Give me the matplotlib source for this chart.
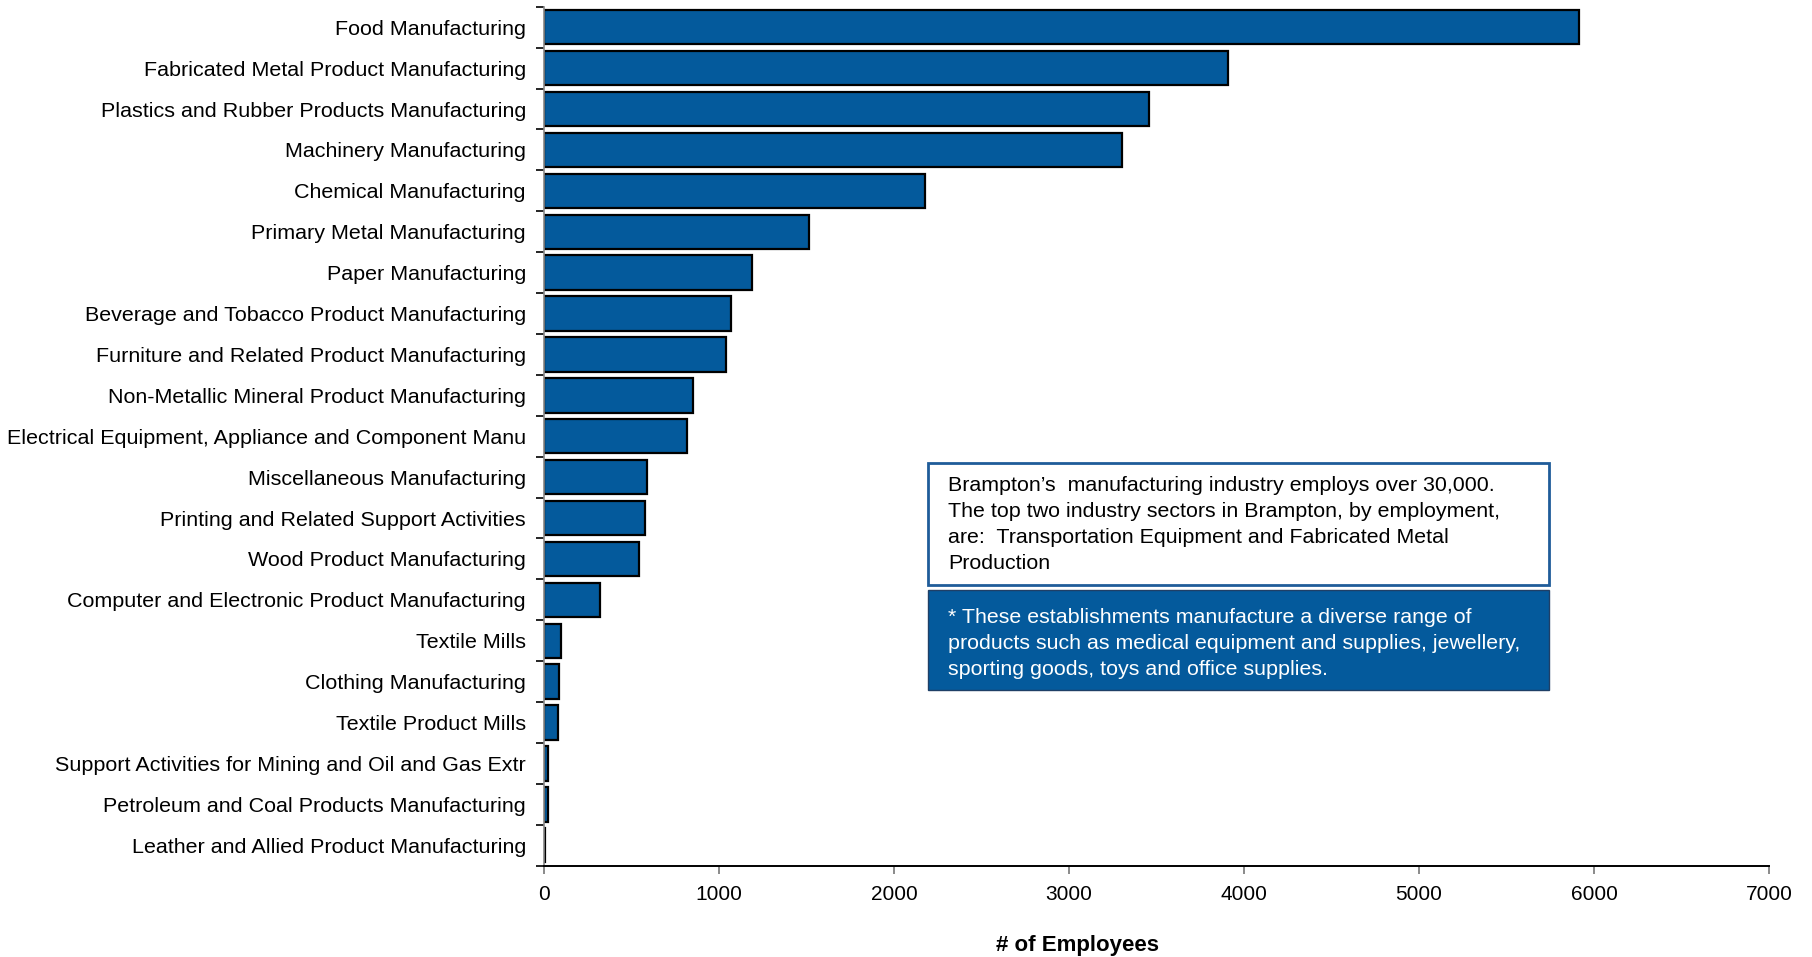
import matplotlib.pyplot as plt
from matplotlib.patches import Rectangle

industries = [
    "Food Manufacturing",
    "Fabricated Metal Product Manufacturing",
    "Plastics and Rubber Products Manufacturing",
    "Machinery Manufacturing",
    "Chemical Manufacturing",
    "Primary Metal Manufacturing",
    "Paper Manufacturing",
    "Beverage and Tobacco Product Manufacturing",
    "Furniture and Related Product Manufacturing",
    "Non-Metallic Mineral Product Manufacturing",
    "Electrical Equipment, Appliance and Component Manu",
    "Miscellaneous Manufacturing",
    "Printing and Related Support Activities",
    "Wood Product Manufacturing",
    "Computer and Electronic Product Manufacturing",
    "Textile Mills",
    "Clothing Manufacturing",
    "Textile Product Mills",
    "Support Activities for Mining and Oil and Gas Extr",
    "Petroleum and Coal Products Manufacturing",
    "Leather and Allied Product Manufacturing",
]
employees = [5912, 3906, 3457, 3305, 2179, 1516, 1187, 1067, 1038, 850,
             815, 587, 575, 545, 318, 99, 87, 80, 25, 25, 6]
xticks = [0, 1000, 2000, 3000, 4000, 5000, 6000, 7000]

note_top = ("Brampton\u2019s  manufacturing industry employs over 30,000.\n"
            "The top two industry sectors in Brampton, by employment,\n"
            "are:  Transportation Equipment and Fabricated Metal\n"
            "Production")
note_bottom = ("* These establishments manufacture a diverse range of\n"
               "products such as medical equipment and supplies, jewellery,\n"
               "sporting goods, toys and office supplies.")

plt.rcParams['font.family'] = ['Liberation Sans', 'DejaVu Sans']
blue = '#045A9C'

fig = plt.figure(figsize=(18.12, 9.57), dpi=100)
ax = fig.add_axes([0.3002, 0.0954, 0.6761, 0.8975])

pos = list(range(len(industries)))
ax.barh(pos, employees, height=0.84, color=blue, edgecolor='black', linewidth=1.6)
ax.set_ylim(len(industries) - 0.5, -0.5)
ax.set_xlim(0, 7000)

ax.set_yticks(pos)
ax.set_yticklabels(industries, fontsize=15.45)
ax.tick_params(axis='y', length=0, pad=13)
ax.set_yticks([p - 0.5 for p in pos] + [len(pos) - 0.5], minor=True)
ax.tick_params(axis='y', which='minor', length=6, width=1.2, color='black', direction='out')

ax.set_xticks(xticks)
ax.set_xticklabels([str(t) for t in xticks], fontsize=15)
ax.tick_params(axis='x', length=6, width=1.2, color='#777777', pad=8)

ax.spines['top'].set_visible(False)
ax.spines['right'].set_visible(False)
ax.spines['left'].set_color('#888888')
ax.spines['left'].set_linewidth(1.2)
ax.spines['bottom'].set_linewidth(1.4)

fig.text(1077 / 1812, 1 - 946 / 957, "# of Employees", ha='center', va='center',
         fontsize=16, fontweight='bold')

# annotation boxes
fig.patches.append(Rectangle((0.5121, 0.3887), 0.3427, 0.1275, transform=fig.transFigure,
                             facecolor='white', edgecolor='#1F5C99', linewidth=2))
fig.patches.append(Rectangle((0.5121, 0.2790), 0.3427, 0.1045, transform=fig.transFigure,
                             facecolor=blue, edgecolor='#1F3F66', linewidth=1))
fig.text(0.5232, 1 - 476 / 957, note_top, ha='left', va='top',
         fontsize=15.4, linespacing=1.46, color='black')
fig.text(0.5232, 1 - 608 / 957, note_bottom, ha='left', va='top',
         fontsize=15.4, linespacing=1.46, color='white')

plt.savefig('out.png', dpi=100)
